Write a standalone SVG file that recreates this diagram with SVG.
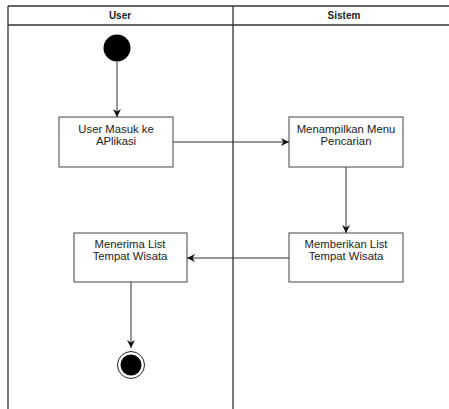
<svg xmlns="http://www.w3.org/2000/svg" width="449" height="409" viewBox="0 0 449 409">
<defs>
<style>
.lane{stroke:#333;stroke-width:1.3;fill:none}
.node rect{fill:#fff;stroke:#444;stroke-width:1}
.lbl{font-family:"Liberation Sans",Arial,sans-serif;font-size:11.3px;fill:#222;text-anchor:middle}
.hdr{font-family:"Liberation Sans",Arial,sans-serif;font-size:10px;font-weight:bold;fill:#222;text-anchor:middle}
.edge{stroke:#333;stroke-width:1;fill:none;marker-end:url(#ah)}
</style>
<marker id="ah" viewBox="0 0 10 10" refX="10" refY="5" markerWidth="8" markerHeight="8" markerUnits="userSpaceOnUse" orient="auto">
<path d="M0,0 L10,5 L0,10 L3,5 Z" fill="#111"/>
</marker>
</defs>
<rect width="449" height="409" fill="#fff"/>
<g id="swimlanes">
<path class="lane" d="M8,6 H449 M8,25 H449 M8,6 V409 M233,6 V409"/>
<text class="hdr" x="120" y="19">User</text>
<text class="hdr" x="344" y="19">Sistem</text>
</g>
<g id="start">
<circle cx="117" cy="48" r="13.5" fill="#000"/>
</g>
<g id="n1" class="node">
<rect x="59" y="117" width="114" height="50"/>
<text class="lbl" x="116" y="133">User Masuk ke</text>
<text class="lbl" x="116" y="145">APlikasi</text>
</g>
<g id="n2" class="node">
<rect x="289" y="117" width="114" height="50"/>
<text class="lbl" x="346" y="133">Menampilkan Menu</text>
<text class="lbl" x="346" y="145">Pencarian</text>
</g>
<g id="n3" class="node">
<rect x="289" y="233" width="114" height="49"/>
<text class="lbl" x="346" y="248">Memberikan List</text>
<text class="lbl" x="346" y="260">Tempat Wisata</text>
</g>
<g id="n4" class="node">
<rect x="74" y="233" width="113" height="49"/>
<text class="lbl" x="130" y="248">Menerima List</text>
<text class="lbl" x="130" y="260">Tempat Wisata</text>
</g>
<g id="end">
<circle cx="131" cy="365" r="13.5" fill="#fff" stroke="#222" stroke-width="1"/>
<circle cx="131" cy="365" r="10.5" fill="#000"/>
</g>
<g id="connectors">
<path class="edge" d="M117,61.5 V117"/>
<path class="edge" d="M173,142 H289"/>
<path class="edge" d="M346,167 V233"/>
<path class="edge" d="M289,258 H187"/>
<path class="edge" d="M131,282 V348"/>
</g>
</svg>
